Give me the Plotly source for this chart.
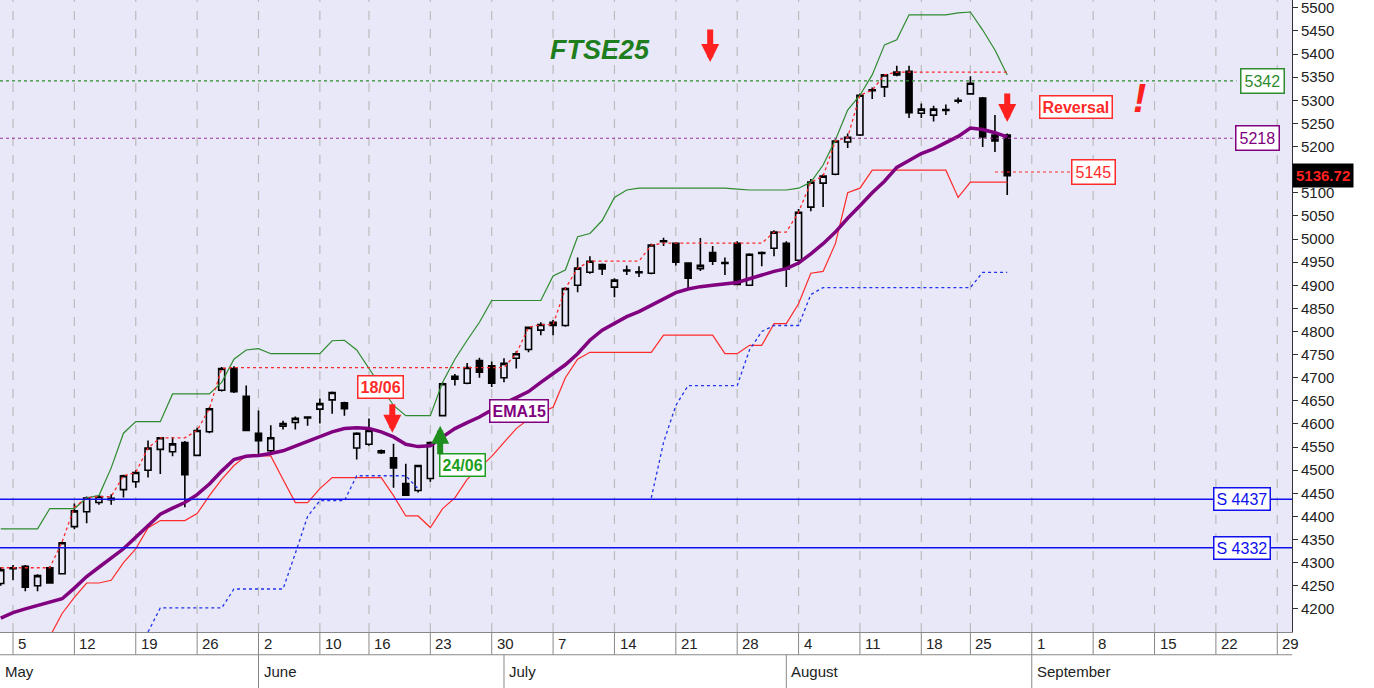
import plotly.graph_objects as go

# trading-day index (0 = 5 May)
idx = list(range(-1, 82))
opens = [4255,4287,4292,4250,4289,4276,4378,4410,4430,4436,4458,4475,4500,4545,4540,4560,4532,4583,4673,4720,
         4660,4580,4542,4595,4603,4613,4632,4652,4646,4548,4556,4542,4527,4471,4456,4482,4618,4697,4688,4737,
         4726,4700,4742,4761,4803,4820,4813,4900,4928,4945,4896,4931,4929,4926,4994,4991,4948,4936,4971,4947,
         4991,4900,4969,4980,4991,4954,5069,5121,5140,5210,5225,5321,5329,5355,5363,5272,5268,5278,5298,5314,
         5305,5225,5225]
highs = [4290,4295,4295,4275,4292,4345,4428,4443,4446,4448,4490,4500,4564,4572,4572,4563,4592,4636,4723,4725,
         4683,4629,4597,4607,4616,4616,4655,4670,4648,4582,4612,4545,4557,4514,4512,4562,4690,4708,4732,4743,
         4735,4742,4757,4811,4820,4825,4896,4960,4963,4947,4915,4943,4941,4990,5003,4993,4950,5002,4985,4960,
         4995,4969,4973,5019,4995,5065,5130,5140,5215,5228,5315,5328,5357,5375,5375,5293,5288,5291,5306,5352,
         5307,5268,5228]
lows = [4250,4262,4238,4238,4255,4275,4372,4385,4425,4425,4441,4462,4484,4492,4530,4420,4530,4580,4670,4667,
        4585,4532,4536,4588,4588,4596,4601,4622,4618,4523,4553,4535,4462,4444,4452,4475,4616,4683,4686,4700,
        4680,4690,4720,4755,4792,4792,4810,4885,4925,4922,4874,4922,4918,4924,4985,4943,4893,4931,4944,4922,
        4900,4899,4941,4963,4896,4945,5060,5069,5138,5197,5223,5303,5307,5352,5262,5262,5254,5268,5293,5314,
        5199,5188,5095]
closes = [4285,4289,4247,4272,4256,4343,4412,4440,4443,4439,4488,4495,4548,4570,4557,4490,4586,4633,4720,4670,
          4586,4564,4570,4601,4612,4615,4644,4668,4633,4580,4586,4538,4505,4446,4510,4560,4687,4703,4722,4712,
          4688,4731,4752,4809,4815,4813,4893,4937,4952,4935,4911,4933,4927,4987,4996,4950,4915,4943,4952,4949,
          4902,4967,4971,5015,4935,5058,5123,5136,5212,5220,5311,5323,5355,5361,5273,5281,5281,5280,5300,5337,
          5221,5212,5137]
upper = [4373,4373,4373,4373,4417,4417,4417,4440,4445,4505,4580,4605,4605,4605,4665,4665,4665,4665,4690,4740,
         4760,4763,4752,4752,4752,4752,4752,4780,4781,4760,4720,4680,4640,4618,4618,4618,4690,4740,4781,4820,
         4867,4867,4867,4867,4867,4920,4933,5005,5012,5040,5090,5106,5110,5110,5110,5110,5110,5110,5110,5110,
         5108,5106,5106,5106,5106,5110,5123,5160,5214,5279,5311,5355,5420,5431,5485,5485,5485,5485,5489,5491,
         5452,5409,5355]
lower = [None,None,None,None,4140,4190,4225,4256,4256,4262,4300,4330,4375,4391,4391,4391,4406,4445,4480,4510,
         4531,4531,4531,4480,4430,4430,4460,4484,4484,4484,4484,4484,4445,4401,4401,4376,4417,4440,4480,4505,
         4530,4560,4590,4610,4625,4636,4700,4740,4755,4755,4755,4755,4755,4755,4792,4792,4792,4792,4792,4752,
         4752,4770,4770,4817,4817,4860,4926,4930,4990,5100,5110,5149,5149,5149,5149,5149,5149,5149,5090,5123,
         5123,5123,5123]
resist = [4289,4289,4289,4289,4289,4345,4420,4440,4443,4443,4488,4495,4548,4570,4570,4570,4586,4633,4720,4722,
          4722,4722,4722,4722,4722,4722,4722,4722,4722,4722,4722,4722,4722,4722,4722,4722,4722,4722,4722,4722,
          4722,4722,4752,4809,4815,4815,4893,4937,4952,4952,4952,4952,4952,4987,4991,4991,4991,4991,4991,4991,
          4991,4991,4991,5015,5015,5058,5123,5136,5212,5220,5311,5322,5355,5361,5361,5361,5361,5361,5361,5361,
          5361,5361,5361]
support = [None]*12 + [4150,4202,4202,4202,4202,4202,4202,4243,4243,4243,4243,4243,4320,4400,4434,4434,4434,
           4488,4488,4488,4488,4488,4460] + [None]*18 + [4440,4560,4640,4683,4683,4683,4683,4683,4760,4800,
           4813,4813,4813,4880,4895,4895,4895,4895,4895,4895,4895,4895,4895,4895,4895,4895,4895,4928,4928,4928,4928]
ema = [4180,4192,4200,4208,4214,4222,4245,4270,4290,4310,4330,4355,4380,4405,4418,4430,4447,4470,4498,4523,
       4530,4532,4536,4542,4552,4563,4572,4583,4590,4592,4590,4583,4572,4556,4551,4553,4572,4590,4603,4615,
       4630,4645,4657,4670,4690,4710,4728,4752,4781,4803,4818,4832,4843,4857,4870,4884,4892,4897,4900,4903,
       4906,4914,4922,4930,4936,4948,4968,4990,5015,5045,5072,5100,5125,5155,5170,5185,5195,5208,5222,5240,
       5237,5230,5221]

grid_idx = [0,5,10,15,20,25,29,34,39,44,49,54,59,64,69,74,78,83,88,93,98,103]
day_labels = ["5","12","19","26","2","10","16","23","30","7","14","21","28","4","11","18","25","1","8","15","22","29"]
month_idx = [-1.06, 20, 40, 63, 83]
month_labels = ["May","June","July","August","September"]
yticks = list(range(4200, 5501, 50))
ytext = ["" if v == 5150 else str(v) for v in yticks]
last_close = 5136.72
lvl_green, lvl_purple, lvl_s1, lvl_s2, lvl_red = 5342, 5218, 4437, 4332, 5145

BG = "#E8E8F8"
fig = go.Figure()
fig.add_trace(go.Scatter(x=idx, y=upper, mode="lines", line=dict(color="#2E8B2E", width=1.2), hoverinfo="skip"))
fig.add_trace(go.Scatter(x=idx, y=lower, mode="lines", line=dict(color="#FF2A2A", width=1.2), hoverinfo="skip"))
fig.add_trace(go.Scatter(x=idx, y=support, mode="lines", line=dict(color="#2233EE", width=1.3, dash="dot"), hoverinfo="skip"))
fig.add_trace(go.Scatter(x=idx, y=resist, mode="lines", line=dict(color="#FF2A2A", width=1.3, dash="dot"), hoverinfo="skip"))
fig.add_trace(go.Scatter(x=idx, y=ema, mode="lines", line=dict(color="#800080", width=3.5), hoverinfo="skip"))
fig.add_trace(go.Candlestick(x=idx, open=opens, high=highs, low=lows, close=closes, whiskerwidth=0,
    increasing=dict(fillcolor=BG, line=dict(color="black", width=1.6)),
    decreasing=dict(fillcolor="black", line=dict(color="black", width=1.6))))

shapes = []
for g in grid_idx:
    shapes.append(dict(type="line", xref="x", yref="paper", x0=g, x1=g, y0=0, y1=1,
                       line=dict(color="#BBBBBB", width=1.2, dash="dash"), layer="below"))
    shapes.append(dict(type="line", xref="x", yref="paper", x0=g, x1=g, y0=-0.036, y1=0,
                       line=dict(color="#888888", width=1)))
for m in month_idx[1:]:
    shapes.append(dict(type="line", xref="x", yref="paper", x0=m, x1=m, y0=-0.089, y1=-0.036,
                       line=dict(color="#888888", width=1)))
shapes.append(dict(type="line", xref="paper", yref="paper", x0=0, x1=1, y0=-0.036, y1=-0.036,
                   line=dict(color="#888888", width=1)))
shapes.append(dict(type="line", xref="paper", yref="y", x0=0, x1=0.957, y0=lvl_green, y1=lvl_green,
                   line=dict(color="#2E8B2E", width=1.2, dash="dot")))
shapes.append(dict(type="line", xref="paper", yref="y", x0=0, x1=0.954, y0=lvl_purple, y1=lvl_purple,
                   line=dict(color="#993399", width=1.2, dash="dot")))
for lv in (lvl_s1, lvl_s2):
    shapes.append(dict(type="line", xref="paper", yref="y", x0=0, x1=1, y0=lv, y1=lv,
                       line=dict(color="#1010EE", width=1.5)))
shapes.append(dict(type="line", xref="x", yref="y", x0=80, x1=87, y0=lvl_red, y1=lvl_red,
                   line=dict(color="#FF2A2A", width=1.2, dash="dot")))

ann = []
for g, lab in zip(grid_idx, day_labels):
    ann.append(dict(x=g + 0.25, y=-0.018, xref="x", yref="paper", text=lab, showarrow=False,
                    xanchor="left", yanchor="middle", font=dict(size=15, color="#222", family="Arial")))
for m, lab in zip(month_idx, month_labels):
    ann.append(dict(x=m + 0.25, y=-0.062, xref="x", yref="paper", text=lab, showarrow=False,
                    xanchor="left", yanchor="middle", font=dict(size=15, color="#222", family="Arial")))

def box(x, y, text, color, xref="x", size=16, pad=2):
    ann.append(dict(x=x, y=y, xref=xref, yref="y", text=text, showarrow=False, bgcolor="white",
                    xanchor="center", bordercolor=color, borderwidth=1.5, borderpad=pad,
                    font=dict(size=size, color=color, family="Arial")))

box(0.9775, lvl_green, "5342", "#2E8B2E", "paper", pad=3)
box(0.9735, lvl_purple, "5218", "#800080", "paper", pad=3)
box(0.961, lvl_s1, "S 4437", "#1010EE", "paper")
box(0.961, lvl_s2, "S 4332", "#1010EE", "paper")
box(88.0, lvl_red, "5145", "#FF2A2A", pad=3)
box(86.6, 5285, "<b>Reversal</b>", "#FF2A2A")
box(29.9, 4681, "<b>18/06</b>", "#FF2A2A")
box(36.6, 4512, "<b>24/06</b>", "#1E9E1E")
box(41.2, 4629, "<b>EMA15</b>", "#800080")
ann.append(dict(x=47.8, y=5409, xref="x", yref="y", text="<b><i>FTSE25</i></b>", showarrow=False,
                font=dict(size=27, color="#1E7E1E", family="Arial")))
ann.append(dict(x=91.8, y=5305, xref="x", yref="y", text="<b><i>!</i></b>", showarrow=False,
                font=dict(size=40, color="#FF2020", family="Arial")))
def arrow(x, y, ay, color):
    ann.append(dict(x=x, y=y, xref="x", yref="y", ax=0, ay=ay, showarrow=True, arrowhead=2,
                    arrowsize=0.6, arrowwidth=6, arrowcolor=color, text=""))
arrow(56.8, 5383, -34, "#FF2020")
arrow(81.0, 5253, -30, "#FF2020")
arrow(30.9, 4581, -30, "#FF2020")
arrow(34.8, 4596, 30, "#1E8E1E")
ann.append(dict(x=1.0, y=last_close, xref="paper", yref="y", text="<b>5136.72</b>", showarrow=False,
                xanchor="left", bgcolor="black", borderpad=3, font=dict(size=15, color="#FF2020", family="Arial")))

fig.update_layout(width=1374, height=688, margin=dict(l=0, r=82, t=0, b=56),
                  paper_bgcolor="white", plot_bgcolor=BG, showlegend=False,
                  shapes=shapes, annotations=ann,
                  xaxis=dict(range=[-1.06, 104.2], showgrid=False, showticklabels=False, zeroline=False,
                             rangeslider=dict(visible=False), showline=True, linecolor="#888", mirror=True),
                  yaxis=dict(range=[4150, 5517], side="right", tickvals=yticks, ticktext=ytext,
                             ticklabeloverflow="allow", showgrid=False,
                             ticks="outside", ticklen=5, tickcolor="#333", showline=True, linecolor="#333",
                             tickfont=dict(size=15, family="Arial", color="#222"), zeroline=False))
fig.write_html("out.html", config={"displayModeBar": False},
               post_script="document.body.style.margin='0';document.body.style.overflow='hidden';")
